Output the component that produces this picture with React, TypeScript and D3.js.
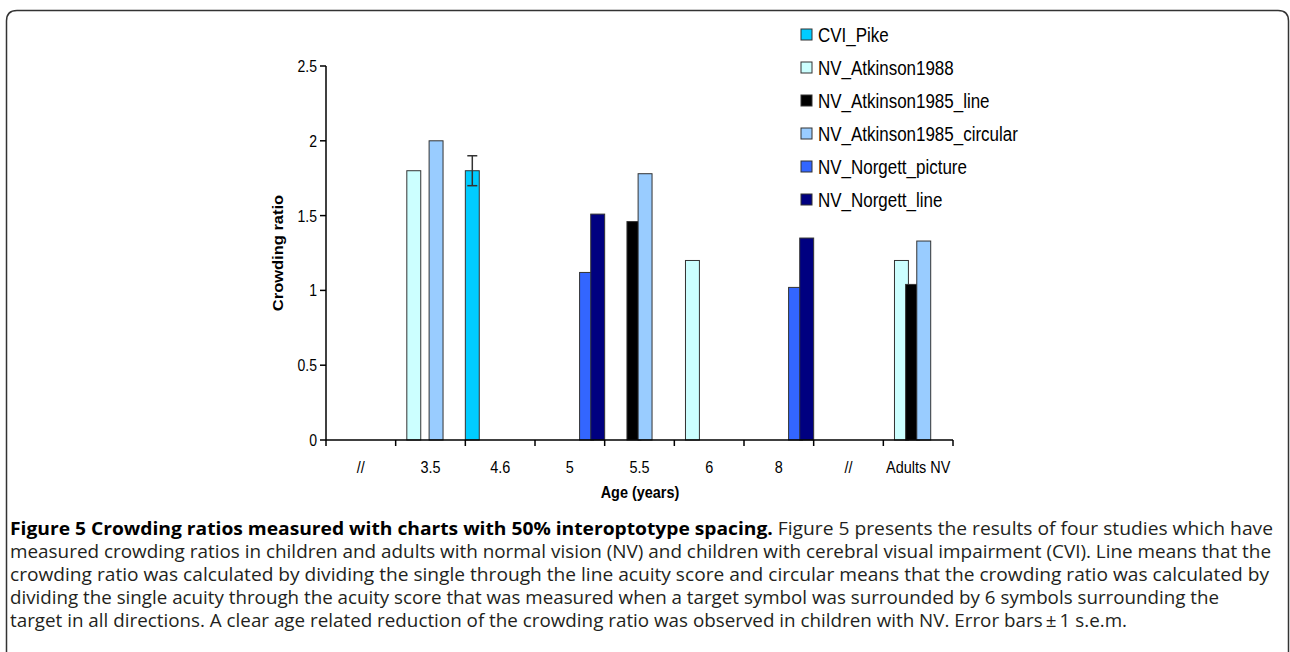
import React from "react";
import * as d3 from "d3";

const categories = ["//", "3.5", "4.6", "5", "5.5", "6", "8", "// ", "Adults NV"];
const seriesNames = [
  "CVI_Pike",
  "NV_Atkinson1988",
  "NV_Atkinson1985_line",
  "NV_Atkinson1985_circular",
  "NV_Norgett_picture",
  "NV_Norgett_line",
];
const seriesColors = ["#00CCFF", "#CCFFFF", "#000000", "#99CCFF", "#3366FF", "#000080"];
const cviPike = [null, null, 1.8, null, null, null, null, null, null];
const atkinson1988 = [null, 1.8, null, null, null, 1.2, null, null, 1.2];
const atkinson1985Line = [null, null, null, null, 1.46, null, null, null, 1.04];
const atkinson1985Circular = [null, 2.0, null, null, 1.78, null, null, null, 1.33];
const norgettPicture = [null, null, null, 1.12, null, null, 1.02, null, null];
const norgettLine = [null, null, null, 1.51, null, null, 1.35, null, null];
const cviPikeError = [null, null, 0.1, null, null, null, null, null, null];
const yTicks = [0, 0.5, 1, 1.5, 2, 2.5];
const yTickLabels = ["0", "0.5", "1", "1.5", "2", "2.5"];

const seriesValues = [cviPike, atkinson1988, atkinson1985Line, atkinson1985Circular, norgettPicture, norgettLine];

const captionBold = "Figure 5 Crowding ratios measured with charts with 50% interoptotype spacing.";
const captionLines = [
  " Figure 5 presents the results of four studies which have",
  "measured crowding ratios in children and adults with normal vision (NV) and children with cerebral visual impairment (CVI). Line means that the",
  "crowding ratio was calculated by dividing the single through the line acuity score and circular means that the crowding ratio was calculated by",
  "dividing the single acuity through the acuity score that was measured when a target symbol was surrounded by 6 symbols surrounding the",
  "target in all directions. A clear age related reduction of the crowding ratio was observed in children with NV. Error bars\u2009\u00b1\u20091 s.e.m.",
];
const captionWidths = [1263, 1261, 1259, 1209, 1117];

const W = 1290;
const H = 652;
const FONT = "'Liberation Sans', Arial, sans-serif";
const SX = 0.85;

function ST({ x, y, size, anchor = "start", bold = false, children, sx = SX, rotate = 0 }: any) {
  const tr = rotate
    ? `translate(${x},${y}) rotate(${rotate}) scale(1,${sx})`
    : `translate(${x},${y}) scale(${sx},1)`;
  return (
    <g transform={tr}>
      <text
        x={0}
        y={0}
        fontSize={size}
        fontFamily={FONT}
        fontWeight={bold ? "bold" : "normal"}
        textAnchor={anchor}
        fill="#000"
      >
        {children}
      </text>
    </g>
  );
}

export default function App() {
  const x = d3.scaleBand<number>().domain(d3.range(categories.length)).range([326, 953]).padding(0);
  const y = d3.scaleLinear().domain([0, 2.5]).range([440, 66]);
  const bw = x.bandwidth();
  const barW = bw * 0.2;
  const inner = d3.scaleLinear().domain([0, seriesNames.length - 1]).range([0, bw - barW]);

  const boundaries = d3.range(categories.length + 1).map((i) => (i < categories.length ? (x(i) as number) : (x(categories.length - 1) as number) + bw));

  return (
    <svg width={W} height={H} style={{ position: "absolute", left: 0, top: 0, background: "#fff" }}>
      <rect x={0} y={0} width={W} height={H} fill="#fff" />
      {/* frame */}
      <path
        d={`M6.5,${H + 5} V21 Q6.5,10.5 17,10.5 H1278 Q1288.5,10.5 1288.5,21 V${H + 5}`}
        fill="none"
        stroke="#333"
        strokeWidth={1.5}
      />

      {/* bars */}
      {seriesValues.map((vals, si) => (
        <g key={si}>
          {vals.map((v, ci) =>
            v == null ? null : (
              <rect
                key={ci}
                x={(x(ci) as number) + inner(si)}
                y={y(v)}
                width={barW}
                height={y(0) - y(v)}
                fill={seriesColors[si]}
                stroke="#333"
                strokeWidth={1}
              />
            )
          )}
        </g>
      ))}

      {/* error bars */}
      {cviPikeError.map((e, ci) => {
        const v = cviPike[ci];
        if (e == null || v == null) return null;
        const cx = (x(ci) as number) + inner(0) + barW / 2;
        return (
          <g key={ci} stroke="#333" strokeWidth={1.5}>
            <line x1={cx} x2={cx} y1={y(v - e)} y2={y(v + e)} />
            <line x1={cx - 5} x2={cx + 5} y1={y(v + e)} y2={y(v + e)} />
            <line x1={cx - 5} x2={cx + 5} y1={y(v - e)} y2={y(v - e)} />
          </g>
        );
      })}

      {/* y axis */}
      <line x1={326} x2={326} y1={y(2.5)} y2={y(0)} stroke="#000" strokeWidth={1.5} />
      {yTicks.map((t, i) => (
        <g key={i}>
          <line x1={320} x2={326} y1={y(t)} y2={y(t)} stroke="#000" strokeWidth={1.5} />
          <ST x={317} y={y(t) + 6} size={16.5} anchor="end">
            {yTickLabels[i]}
          </ST>
        </g>
      ))}
      <ST x={283} y={(y(0) + y(2.5)) / 2} size={16.5} anchor="middle" bold rotate={-90} sx={0.85}>
        Crowding ratio
      </ST>

      {/* x axis */}
      <line x1={326} x2={953} y1={y(0)} y2={y(0)} stroke="#000" strokeWidth={1.5} />
      {boundaries.map((b, i) => (
        <line key={i} x1={b} x2={b} y1={y(0)} y2={y(0) + 6} stroke="#000" strokeWidth={1.5} />
      ))}
      {categories.map((c, i) => (
        <ST key={i} x={(x(i) as number) + bw / 2} y={473} size={17} anchor="middle">
          {c.trim()}
        </ST>
      ))}
      <ST x={640} y={498} size={17} anchor="middle" bold>
        Age (years)
      </ST>

      {/* legend */}
      {seriesNames.map((n, i) => (
        <g key={i}>
          <rect x={801} y={29 + i * 33} width={11} height={11} fill={seriesColors[i]} stroke="#333" strokeWidth={1} />
          <ST x={818} y={42 + i * 33} size={19.5} sx={0.87}>
            {n}
          </ST>
        </g>
      ))}

      {/* caption */}
      {captionLines.map((line, i) => (
        <text
          key={i}
          x={10}
          y={535 + i * 23}
          fontSize={17.5}
          fontFamily="'Open Sans', 'Noto Sans', sans-serif"
          fill="#231f20"
          textLength={captionWidths[i]}
          lengthAdjust="spacingAndGlyphs"
        >
          {i === 0 ? (
            <>
              <tspan fontWeight="bold" fill="#000">{captionBold}</tspan>
              <tspan>{line}</tspan>
            </>
          ) : (
            line
          )}
        </text>
      ))}
    </svg>
  );
}
